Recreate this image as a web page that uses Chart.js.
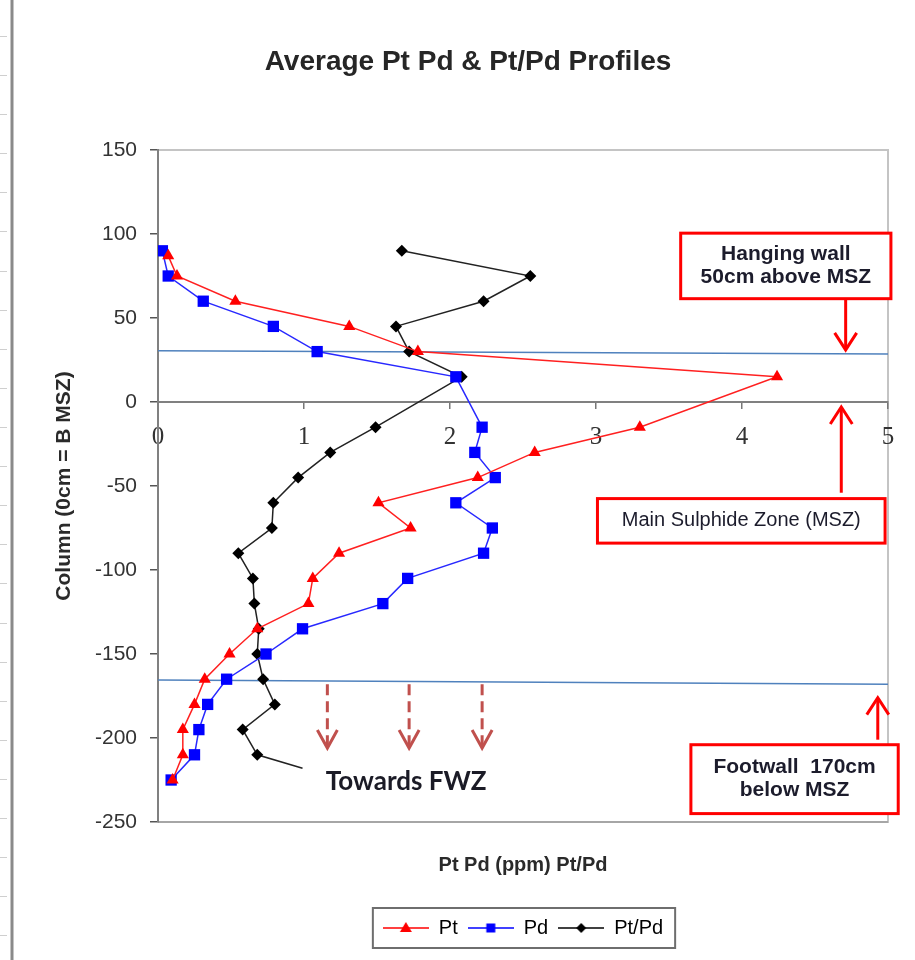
<!DOCTYPE html>
<html>
<head>
<meta charset="utf-8">
<title>Average Pt Pd &amp; Pt/Pd Profiles</title>
<script src="https://cdn.jsdelivr.net/npm/chart.js@4.4.1/dist/chart.umd.min.js"></script>
<style>
  html, body { margin: 0; padding: 0; background: #fff; }
  #wrap { width: 915px; height: 960px; }
</style>
</head>
<body>
<div id="wrap"><canvas id="profileChart" width="915" height="960"></canvas></div>
<script>
// depth in cm relative to the base of the MSZ, values in ppm (Pt, Pd) and ratio (Pt/Pd)
const depthPt = [87, 75, 60, 45, 30, 15, -15, -30, -45, -60, -75, -90, -105, -120, -135, -150, -165, -180, -195, -210, -225];
const ptValues = [0.07, 0.13, 0.53, 1.31, 1.78, 4.24, 3.30, 2.58, 2.19, 1.51, 1.73, 1.24, 1.06, 1.03, 0.68, 0.49, 0.32, 0.25, 0.17, 0.17, 0.10];

const depthPd = [90, 75, 60, 45, 30, 15, -15, -30, -45, -60, -75, -90, -105, -120, -135, -150, -165, -180, -195, -210, -225];
const pdValues = [0.03, 0.07, 0.31, 0.79, 1.09, 2.04, 2.22, 2.17, 2.31, 2.04, 2.29, 2.23, 1.71, 1.54, 0.99, 0.74, 0.47, 0.34, 0.28, 0.25, 0.09];

const depthRatio = [90, 75, 60, 45, 30, 15, -15, -30, -45, -60, -75, -90, -105, -120, -135, -150, -165, -180, -195, -210, -218];
const ratioValues = [1.67, 2.55, 2.23, 1.63, 1.72, 2.08, 1.49, 1.18, 0.96, 0.79, 0.78, 0.55, 0.65, 0.66, 0.69, 0.68, 0.72, 0.80, 0.58, 0.68, 0.99];

// zone boundary lines (hanging wall / footwall)
const boundaryX = [0, 5];
const hangingWallY = [30.5, 28.5];
const footwallY = [-165.5, -168];

const xTicks = [0, 1, 2, 3, 4, 5];
const yTicks = [-250, -200, -150, -100, -50, 0, 50, 100, 150];

function toPoints(xs, ys) {
    return xs.map((v, i) => ({ x: v, y: ys[i] }));
}

// legend symbols: line with the marker in the middle, like Excel
function legendSymbol(color, shape) {
    const c = document.createElement('canvas');
    c.width = 46; c.height = 16;
    const g = c.getContext('2d');
    g.strokeStyle = color; g.fillStyle = color; g.lineWidth = 1.5;
    g.beginPath(); g.moveTo(0, 8); g.lineTo(46, 8); g.stroke();
    g.beginPath();
    if (shape === 'triangle') {
        g.moveTo(23, 2); g.lineTo(29, 12); g.lineTo(17, 12);
    } else if (shape === 'rect') {
        g.rect(18.5, 3.5, 9, 9);
    } else {
        g.moveTo(23, 3); g.lineTo(28, 8); g.lineTo(23, 13); g.lineTo(18, 8);
    }
    g.closePath(); g.fill();
    return c;
}
const legendSymbols = [legendSymbol('#ff0000', 'triangle'), legendSymbol('#0000ff', 'rect'), legendSymbol('#000000', 'diamond')];

// annotations, placed in data units
const noteBoxes = [
    { lines: ['Hanging wall', '50cm above MSZ'], bold: true, x0: 3.58, x1: 5.02, y0: 100.5, y1: 61.5 },
    { lines: ['Main Sulphide Zone (MSZ)'], bold: false, x0: 3.01, x1: 4.98, y0: -57.5, y1: -84 },
    { lines: ['Footwall  170cm', 'below MSZ'], bold: true, x0: 3.65, x1: 5.07, y0: -204, y1: -245 }
];
const noteArrows = [
    { x: 4.71, from: 61.5, to: 31, dashed: false },
    { x: 4.68, from: -54, to: -3, dashed: false },
    { x: 4.93, from: -201, to: -176, dashed: false },
    { x: 1.16, from: -168, to: -206, dashed: true },
    { x: 1.72, from: -168, to: -206, dashed: true },
    { x: 2.22, from: -168, to: -206, dashed: true }
];

function drawArrow(ctx, x, y0, y1, color, dashed) {
    const dir = y1 > y0 ? 1 : -1;
    ctx.save();
    ctx.strokeStyle = color;
    ctx.lineWidth = 3;
    if (dashed) ctx.setLineDash([11, 6]);
    ctx.beginPath(); ctx.moveTo(x, y0); ctx.lineTo(x, y1 - dir * 2); ctx.stroke();
    ctx.setLineDash([]);
    const hw = dashed ? 10 : 11, hl = dashed ? 18 : 17;
    ctx.beginPath();
    ctx.moveTo(x - hw, y1 - dir * hl); ctx.lineTo(x, y1); ctx.lineTo(x + hw, y1 - dir * hl);
    ctx.stroke();
    ctx.restore();
}

const decorations = {
    id: 'decorations',
    beforeDraw(chart) {
        const ctx = chart.ctx, a = chart.chartArea;
        ctx.save();
        ctx.fillStyle = '#ffffff';
        ctx.fillRect(0, 0, chart.width, chart.height);
        // spreadsheet edge behind the chart
        ctx.strokeStyle = '#cfcfcf'; ctx.lineWidth = 1;
        for (let y = 36; y < chart.height; y += 39.1) {
            ctx.beginPath(); ctx.moveTo(0, Math.round(y) + 0.5); ctx.lineTo(7, Math.round(y) + 0.5); ctx.stroke();
        }
        ctx.strokeStyle = '#8a8a8a'; ctx.lineWidth = 3;
        ctx.beginPath(); ctx.moveTo(12, 0); ctx.lineTo(12, chart.height); ctx.stroke();
        // plot area frame
        ctx.strokeStyle = '#c4c4c4'; ctx.lineWidth = 2;
        ctx.strokeRect(a.left, a.top, a.right - a.left, a.bottom - a.top);
        ctx.strokeStyle = '#a6a6a6';
        ctx.beginPath(); ctx.moveTo(a.left, a.bottom); ctx.lineTo(a.right, a.bottom); ctx.stroke();
        ctx.restore();
    },
    afterDatasetsDraw(chart) {
        const ctx = chart.ctx, xs = chart.scales.x, ys = chart.scales.y;
        noteArrows.forEach(n => {
            drawArrow(ctx, xs.getPixelForValue(n.x), ys.getPixelForValue(n.from), ys.getPixelForValue(n.to),
                n.dashed ? '#c0504d' : '#ff0000', n.dashed);
        });
        noteBoxes.forEach(b => {
            const l = xs.getPixelForValue(b.x0), r = xs.getPixelForValue(b.x1);
            const t = ys.getPixelForValue(b.y0), bt = ys.getPixelForValue(b.y1);
            ctx.save();
            ctx.fillStyle = '#ffffff';
            ctx.fillRect(l, t, r - l, bt - t);
            ctx.strokeStyle = '#ff0000'; ctx.lineWidth = 3;
            ctx.strokeRect(l, t, r - l, bt - t);
            ctx.fillStyle = '#1c1c2c';
            ctx.textAlign = 'center'; ctx.textBaseline = 'middle';
            ctx.font = (b.bold ? 'bold 21px' : '20px') + ' "Liberation Sans", Arial, sans-serif';
            const cy = (t + bt) / 2, step = 23;
            b.lines.forEach((s, i) => {
                ctx.fillText(s, (l + r) / 2, cy + (i - (b.lines.length - 1) / 2) * step);
            });
            ctx.restore();
        });
        ctx.save();
        ctx.fillStyle = '#1b1b26';
        ctx.font = 'bold 26px Lato, "Open Sans", sans-serif';
        ctx.textAlign = 'center'; ctx.textBaseline = 'middle';
        ctx.fillText('Towards FWZ', xs.getPixelForValue(1.70), ys.getPixelForValue(-226));
        ctx.restore();
    },
    afterDraw(chart) {
        // frame around the legend items
        const boxes = chart.legend.legendHitBoxes;
        if (!boxes || !boxes.length) return;
        const left = Math.min(...boxes.map(b => b.left)) - 10;
        const right = Math.max(...boxes.map(b => b.left + b.width)) + 12;
        const cy = boxes[0].top + boxes[0].height / 2;
        const ctx = chart.ctx;
        ctx.save();
        ctx.strokeStyle = '#6e6e6e'; ctx.lineWidth = 2;
        ctx.strokeRect(left, cy - 20, right - left, 40);
        ctx.restore();
    }
};

const ctx = document.getElementById('profileChart').getContext('2d');
window.profileChart = new Chart(ctx, {
    type: 'scatter',
    data: {
        datasets: [{
            label: 'Pt',
            data: toPoints(ptValues, depthPt),
            showLine: true,
            borderColor: '#ff2020',
            backgroundColor: '#ff0000',
            borderWidth: 1.5,
            pointStyle: 'triangle',
            pointRadius: 7,
            pointBorderWidth: 0
        }, {
            label: 'Pd',
            data: toPoints(pdValues, depthPd),
            showLine: true,
            borderColor: '#2828ff',
            backgroundColor: '#0000ff',
            borderWidth: 1.5,
            pointStyle: 'rect',
            pointRadius: 8,
            pointBorderWidth: 0
        }, {
            label: 'Pt/Pd',
            data: toPoints(ratioValues, depthRatio),
            showLine: true,
            borderColor: '#222222',
            backgroundColor: '#000000',
            borderWidth: 1.5,
            pointStyle: 'rectRot',
            pointRadius: depthRatio.map((d, i) => i === depthRatio.length - 1 ? 0 : 6),
            pointBorderWidth: 0
        }, {
            label: 'hanging wall',
            data: toPoints(boundaryX, hangingWallY),
            showLine: true,
            borderColor: '#4f81bd',
            borderWidth: 1.5,
            pointRadius: 0
        }, {
            label: 'footwall',
            data: toPoints(boundaryX, footwallY),
            showLine: true,
            borderColor: '#4f81bd',
            borderWidth: 1.5,
            pointRadius: 0
        }]
    },
    options: {
        responsive: false,
        animation: false,
        layout: { padding: { left: 48, right: 27, top: 0, bottom: 12 } },
        plugins: {
            title: {
                display: true,
                text: 'Average Pt Pd & Pt/Pd Profiles',
                color: '#262626',
                font: { family: '"Liberation Sans", Arial, sans-serif', size: 28, weight: 'bold' },
                padding: { top: 45, bottom: 71.4 }
            },
            legend: {
                position: 'bottom',
                fullSize: false,
                labels: {
                    usePointStyle: true,
                    pointStyleWidth: 46,
                    padding: 10,
                    color: '#404040',
                    font: { family: '"Liberation Sans", Arial, sans-serif', size: 20 },
                    generateLabels(chart) {
                        return chart.data.datasets.slice(0, 3).map((ds, i) => ({
                            text: ds.label,
                            datasetIndex: i,
                            pointStyle: legendSymbols[i],
                            fillStyle: ds.backgroundColor,
                            strokeStyle: ds.borderColor,
                            lineWidth: 0,
                            hidden: false
                        }));
                    }
                }
            },
            tooltip: { enabled: false }
        },
        scales: {
            x: {
                type: 'linear',
                min: 0,
                max: 5,
                position: { y: 0 },
                afterBuildTicks: (scale) => { scale.ticks = xTicks.map(v => ({ value: v })); },
                ticks: {
                    color: '#333333',
                    padding: 14,
                    font: { family: '"Liberation Serif", "Times New Roman", serif', size: 25 }
                },
                grid: { drawOnChartArea: false, tickLength: 6, color: '#777777', lineWidth: 1.5 },
                border: { color: '#808080', width: 2 }
            },
            xTitle: {
                type: 'linear',
                axis: 'x',
                position: 'bottom',
                min: 0,
                max: 5,
                ticks: { display: false },
                grid: { display: false },
                border: { display: false },
                title: {
                    display: true,
                    text: 'Pt Pd (ppm) Pt/Pd',
                    color: '#2a2a2a',
                    font: { family: '"Liberation Sans", Arial, sans-serif', size: 20, weight: 'bold' },
                    padding: { top: 23, bottom: 31 }
                }
            },
            y: {
                type: 'linear',
                min: -250,
                max: 150,
                afterBuildTicks: (scale) => { scale.ticks = yTicks.map(v => ({ value: v })); },
                afterFit: (scale) => { scale.width = 110; },
                ticks: {
                    color: '#333333',
                    padding: 13,
                    font: { family: '"Liberation Sans", Arial, sans-serif', size: 21 }
                },
                grid: { drawOnChartArea: false, tickLength: 8, color: '#555555', lineWidth: 1.5 },
                border: { color: '#808080', width: 2 },
                title: {
                    display: true,
                    text: 'Column (0cm = B MSZ)',
                    color: '#2a2a2a',
                    font: { family: '"Liberation Sans", Arial, sans-serif', size: 21, weight: 'bold' },
                    padding: { top: 4, bottom: 0 }
                }
            }
        }
    },
    plugins: [decorations]
});
</script>
</body>
</html>
